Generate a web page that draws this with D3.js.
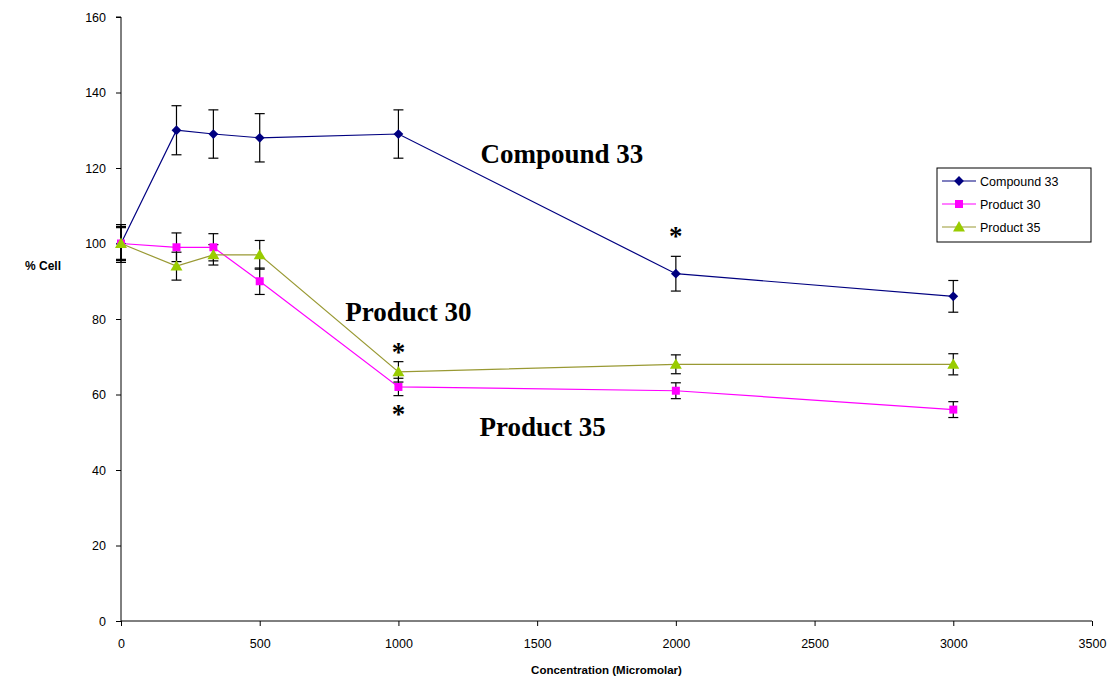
<!DOCTYPE html>
<html>
<head>
<meta charset="utf-8">
<script src="https://cdn.jsdelivr.net/npm/d3@7"></script>
<style>
  html, body { margin: 0; padding: 0; background: #fff; }
  svg { display: block; }
</style>
</head>
<body>
<svg id="chart" width="1109" height="681"></svg>
<script>
// Concentrations (micromolar)
const concentrations = [0, 200, 333, 500, 1000, 2000, 3000];

// % cell, mean values per series
const compound33 = [100, 130, 129, 128, 129, 92, 86];
const product30  = [100, 99, 99, 90, 62, 61, 56];
const product35  = [100, 94, 97, 97, 66, 68, 68];

// Error (±) per point
const compound33Err = [5, 6.5, 6.4, 6.4, 6.4, 4.6, 4.2];
const product30Err  = [4.2, 3.8, 3.6, 3.5, 2.3, 2.1, 2.1];
const product35Err  = [4.5, 3.7, 2.7, 3.8, 2.7, 2.5, 2.8];

const seriesNames = ["Compound 33", "Product 30", "Product 35"];

const xTicks = [0, 500, 1000, 1500, 2000, 2500, 3000, 3500];
const yTicks = [0, 20, 40, 60, 80, 100, 120, 140, 160];

// Significance markers: [concentration, % cell position of the glyph baseline]
const starMarks = [[1000, 68.8], [1000, 52.4], [2000, 99.6]];

// Curve name callouts: [text, concentration, % cell of baseline]
const callouts = [["Compound 33", 1296, 121.3], ["Product 30", 808, 79.5], ["Product 35", 1292, 49.0]];

const svg = d3.select("#chart");
const x = d3.scaleLinear().domain([0, 3500]).range([121, 1092]);
const y = d3.scaleLinear().domain([0, 160]).range([621, 17]);

const sans = "Liberation Sans, Arial, sans-serif";
const serif = "Liberation Serif, Times New Roman, serif";

// Diamond drawn as a square turned 45 degrees
const diamond = {
  draw(context, size) {
    const r = Math.sqrt(size / 2);
    context.moveTo(0, -r); context.lineTo(r, 0); context.lineTo(0, r); context.lineTo(-r, 0); context.closePath();
  }
};

const series = [
  { name: seriesNames[0], values: compound33, err: compound33Err, line: "#000080", fill: "#000080", shape: diamond, size: 48, dy: 0 },
  { name: seriesNames[1], values: product30,  err: product30Err,  line: "#FF00FF", fill: "#FF00FF", shape: d3.symbolSquare, size: 64, dy: 0 },
  { name: seriesNames[2], values: product35,  err: product35Err,  line: "#999933", fill: "#99CC00", shape: d3.symbolTriangle, size: 62, dy: 1 }
];

// Axes
const yAxis = d3.axisLeft(y).tickValues(yTicks).tickSize(5).tickPadding(10).tickFormat(d3.format("d"));
const gy = svg.append("g").attr("transform", `translate(${x(0)},0)`).call(yAxis);
gy.select(".domain").attr("stroke", "#000").attr("d", `M-5,${y(160)}H0V${y(0)}`);
gy.selectAll(".tick line").attr("stroke", "#000");
gy.selectAll(".tick text").style("font-family", sans).style("font-size", "12.5px").attr("fill", "#000");

const xAxis = d3.axisBottom(x).tickValues(xTicks).tickSize(5).tickPadding(13).tickFormat(d3.format("d"));
const gx = svg.append("g").attr("transform", `translate(0,${y(0)})`).call(xAxis);
gx.select(".domain").attr("stroke", "#000").attr("d", `M${x(0)},0H${x(3500)}`);
gx.selectAll(".tick line").attr("stroke", "#000");
gx.selectAll(".tick text").style("font-family", sans).style("font-size", "12.5px").attr("fill", "#000");

// Axis titles
svg.append("text").attr("x", 25).attr("y", 270)
  .style("font-family", sans).style("font-weight", "bold").style("font-size", "12px")
  .text("% Cell");
svg.append("text").attr("x", (x(0) + x(3500)) / 2).attr("y", 674).attr("text-anchor", "middle")
  .style("font-family", sans).style("font-weight", "bold").style("font-size", "11.5px")
  .text("Concentration (Micromolar)");

// Lines
const lineGen = d3.line().x((d, i) => x(concentrations[i])).y(d => y(d));
series.forEach(s => {
  svg.append("path").datum(s.values)
    .attr("fill", "none").attr("stroke", s.line).attr("stroke-width", 1.2)
    .attr("d", lineGen);
});

// Error bars
series.forEach(s => {
  const g = svg.append("g").attr("stroke", "#000").attr("stroke-width", 1.2);
  s.values.forEach((v, i) => {
    const cx = x(concentrations[i]);
    const top = y(v + s.err[i]), bot = y(v - s.err[i]);
    g.append("line").attr("x1", cx).attr("x2", cx).attr("y1", top).attr("y2", bot);
    g.append("line").attr("x1", cx - 5).attr("x2", cx + 5).attr("y1", top).attr("y2", top);
    g.append("line").attr("x1", cx - 5).attr("x2", cx + 5).attr("y1", bot).attr("y2", bot);
  });
});

// Markers
series.forEach(s => {
  const sym = d3.symbol().type(s.shape).size(s.size);
  svg.append("g").selectAll("path").data(s.values).join("path")
    .attr("d", sym)
    .attr("transform", (d, i) => `translate(${x(concentrations[i])},${y(d) + s.dy})`)
    .attr("fill", s.fill);
});

// Significance stars
svg.append("g").selectAll("text").data(starMarks).join("text")
  .attr("x", d => x(d[0])).attr("y", d => y(d[1]))
  .attr("text-anchor", "middle")
  .style("font-family", serif).style("font-weight", "bold").style("font-size", "27px")
  .text("*");

// Callouts
svg.append("g").selectAll("text").data(callouts).join("text")
  .attr("x", d => x(d[1])).attr("y", d => y(d[2]))
  .style("font-family", serif).style("font-weight", "bold").style("font-size", "27px")
  .text(d => d[0]);

// Legend
const legend = svg.append("g").attr("transform", "translate(937,168)");
legend.append("rect").attr("x", 0).attr("y", 0).attr("width", 154).attr("height", 74)
  .attr("fill", "#fff").attr("stroke", "#000").attr("stroke-width", 1);
series.forEach((s, i) => {
  const ly = 13 + i * 23;
  legend.append("line").attr("x1", 5).attr("x2", 39).attr("y1", ly).attr("y2", ly)
    .attr("stroke", s.line).attr("stroke-width", 1.2);
  legend.append("path").attr("d", d3.symbol().type(s.shape).size(s.size)())
    .attr("transform", `translate(22,${ly + s.dy})`)
    .attr("fill", s.fill);
  legend.append("text").attr("x", 43).attr("y", ly + 4.5)
    .style("font-family", sans).style("font-size", "12.5px")
    .text(s.name);
});
</script>
</body>
</html>
